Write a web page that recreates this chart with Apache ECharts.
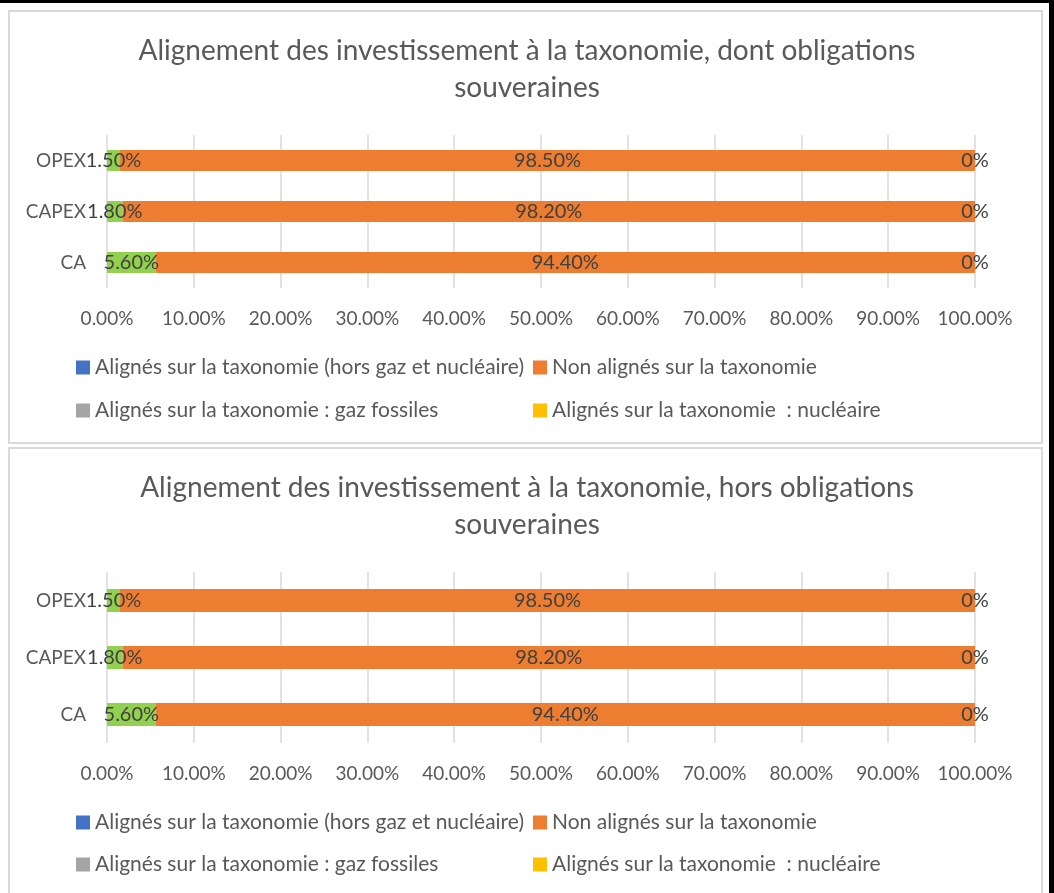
<!DOCTYPE html>
<html>
<head>
<meta charset="utf-8">
<script src="https://cdn.jsdelivr.net/npm/echarts@6/dist/echarts.min.js"></script>
<style>
  html, body { margin: 0; padding: 0; background: #fff; }
  #chart { width: 1054px; height: 893px; }
</style>
</head>
<body>
<div id="chart"></div>
<script>
// data
var categories = ['CA', 'CAPEX', 'OPEX'];
var titles = [
    'Alignement des investissement à la taxonomie, dont obligations\nsouveraines',
    'Alignement des investissement à la taxonomie, hors obligations\nsouveraines'
];
var aligned_dont = [5.6, 1.8, 1.5];
var non_aligned_dont = [94.4, 98.2, 98.5];
var aligned_hors = [5.6, 1.8, 1.5];
var non_aligned_hors = [94.4, 98.2, 98.5];
var hors_gaz_nucl = [0, 0, 0];
var gaz_fossiles = [0, 0, 0];
var nucleaire = [0, 0, 0];

var names = [
    'Alignés sur la taxonomie (hors gaz et nucléaire)',
    'Non alignés sur la taxonomie',
    'Alignés sur la taxonomie : gaz fossiles',
    'Alignés sur la taxonomie  : nucléaire'
];

var FONT = 'Lato';
var txt = '#595959';
var lbl = '#404040';

// layout of the two panels
var panels = [
    {title: 32, grid: 135, gridH: 153, bar: 21, leg1: 357, leg2: 400, border: [9, 11, 1033, 432],
     aligned: aligned_dont, non: non_aligned_dont},
    {title: 469, grid: 572, gridH: 171, bar: 23, leg1: 812, leg2: 854, border: [9, 448, 1033, 470],
     aligned: aligned_hors, non: non_aligned_hors}
];

var myChart = echarts.init(document.getElementById('chart'), null, {renderer: 'canvas'});

var title = [], grid = [], xAxis = [], yAxis = [], series = [], legend = [], graphic = [];

panels.forEach(function (p, i) {
    graphic.push({
        type: 'rect', z: -1,
        shape: {x: p.border[0], y: p.border[1], width: p.border[2], height: p.border[3]},
        style: {fill: '#fff', stroke: '#d9d9d9', lineWidth: 2}
    });
    title.push({
        text: titles[i],
        left: 'center',
        top: p.title,
        padding: 0,
        textStyle: {fontFamily: FONT, fontSize: 28, fontWeight: 'normal', color: txt, lineHeight: 37}
    });
    grid.push({left: 107, width: 868, top: p.grid, height: p.gridH});
    xAxis.push({
        type: 'value', gridIndex: i,
        min: 0, max: 100, interval: 10,
        axisLine: {show: false}, axisTick: {show: false},
        splitLine: {lineStyle: {color: '#d9d9d9', width: 1.5}},
        axisLabel: {
            margin: 21, color: txt, fontFamily: FONT, fontSize: 19,
            formatter: function (v) { return v.toFixed(2) + '%'; }
        }
    });
    yAxis.push({
        type: 'category', gridIndex: i, data: categories,
        axisLine: {show: false}, axisTick: {show: false},
        axisLabel: {margin: 21, color: txt, fontFamily: FONT, fontSize: 19}
    });

    var stack = 'p' + i;
    var labelPct = {
        show: true, position: 'inside', color: lbl, fontFamily: FONT, fontSize: 20,
        formatter: function (d) { return d.value.toFixed(2) + '%'; }
    };
    series.push({
        name: 'Alignés sur la taxonomie', type: 'bar', stack: stack,
        xAxisIndex: i, yAxisIndex: i, barWidth: p.bar,
        itemStyle: {color: '#92D050'}, label: labelPct, data: p.aligned
    });
    series.push({
        name: names[1], type: 'bar', stack: stack,
        xAxisIndex: i, yAxisIndex: i, barWidth: p.bar,
        itemStyle: {color: '#ED7D31'}, label: labelPct, data: p.non
    });
    series.push({
        name: names[0], type: 'bar', stack: stack,
        xAxisIndex: i, yAxisIndex: i, barWidth: p.bar,
        itemStyle: {color: '#4472C4'}, data: hors_gaz_nucl
    });
    series.push({
        name: names[2], type: 'bar', stack: stack,
        xAxisIndex: i, yAxisIndex: i, barWidth: p.bar,
        itemStyle: {color: '#A5A5A5'}, data: gaz_fossiles
    });
    series.push({
        name: names[3], type: 'bar', stack: stack,
        xAxisIndex: i, yAxisIndex: i, barWidth: p.bar,
        itemStyle: {color: '#FFC000'},
        label: {show: true, position: 'inside', color: lbl, fontFamily: FONT, fontSize: 20, formatter: '{c}%'},
        data: nucleaire
    });

    var legPos = [[76, p.leg1], [533, p.leg1], [76, p.leg2], [533, p.leg2]];
    names.forEach(function (n, k) {
        legend.push({
            data: [n], left: legPos[k][0], top: legPos[k][1],
            icon: 'rect', itemWidth: 14, itemHeight: 14, itemGap: 0,
            padding: 0, selectedMode: false,
            textStyle: {fontFamily: FONT, fontSize: 21, color: txt}
        });
    });
});

// black frame strips of the screenshot
graphic.push({type: 'rect', shape: {x: 0, y: 0, width: 1054, height: 3}, style: {fill: '#000'}});
graphic.push({type: 'rect', shape: {x: 1049, y: 0, width: 5, height: 893}, style: {fill: '#000'}});

myChart.setOption({
    animation: false,
    title: title,
    grid: grid,
    xAxis: xAxis,
    yAxis: yAxis,
    legend: legend,
    graphic: graphic,
    series: series
});
</script>
</body>
</html>
